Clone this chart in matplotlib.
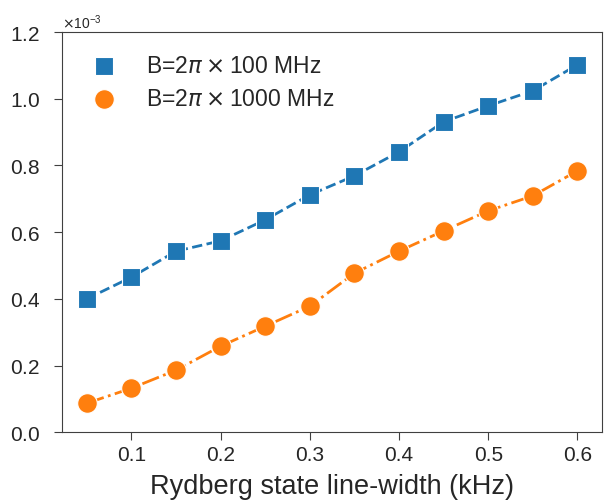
import numpy as np
import matplotlib.pyplot as plt
import seaborn as sns
from matplotlib.ticker import ScalarFormatter

sns.set_style("ticks")
plt.rcParams['font.family'] = ['Liberation Sans', 'DejaVu Sans']

# line-width (kHz)
gamma = [0.05, 0.10, 0.15, 0.20, 0.25, 0.30, 0.35, 0.40, 0.45, 0.50, 0.55, 0.60]
# values
err_100 = [0.400, 0.465, 0.543, 0.574, 0.637, 0.712, 0.769, 0.841, 0.931, 0.979, 1.024, 1.102]
err_1000 = [0.087, 0.132, 0.186, 0.258, 0.318, 0.378, 0.477, 0.543, 0.604, 0.664, 0.709, 0.784]
labels = [r'B=2$\pi\times$100 MHz', r'B=2$\pi\times$1000 MHz']

y1 = np.array(err_100) * 1e-3
y2 = np.array(err_1000) * 1e-3

fig, ax = plt.subplots(figsize=(6.05, 5.02), dpi=100)
ax.plot(gamma, y1, '--', color='C0', lw=2)
ax.plot(gamma, y2, '-.', color='C1', lw=2)
ax.scatter(gamma, y1, marker='s', s=180, color='C0', edgecolor='white', lw=0.8, zorder=3, label=labels[0])
ax.scatter(gamma, y2, marker='o', s=200, color='C1', edgecolor='white', lw=0.8, zorder=3, label=labels[1])

ax.set_ylim(0, 1.2e-3)
ax.set_xticks([0.1, 0.2, 0.3, 0.4, 0.5, 0.6])
fmt = ScalarFormatter(useMathText=True)
fmt.set_powerlimits((0, 0))
ax.yaxis.set_major_formatter(fmt)
ax.tick_params(labelsize=15, length=6, color='.25')
ax.tick_params(axis='y', pad=10)
ax.yaxis.get_offset_text().set_fontsize(10)
ax.set_xlabel('Rydberg state line-width (kHz)', fontsize=19.5, labelpad=6)
for s in ax.spines.values():
    s.set_color('.25')

ax.legend(loc='upper left', bbox_to_anchor=(0, 0.99), frameon=False, fontsize=16.5,
          handletextpad=0.85, borderaxespad=0.4, labelspacing=0.4)

plt.subplots_adjust(left=0.103, right=0.995, top=0.934, bottom=0.137)
plt.savefig('out.png', dpi=100)
